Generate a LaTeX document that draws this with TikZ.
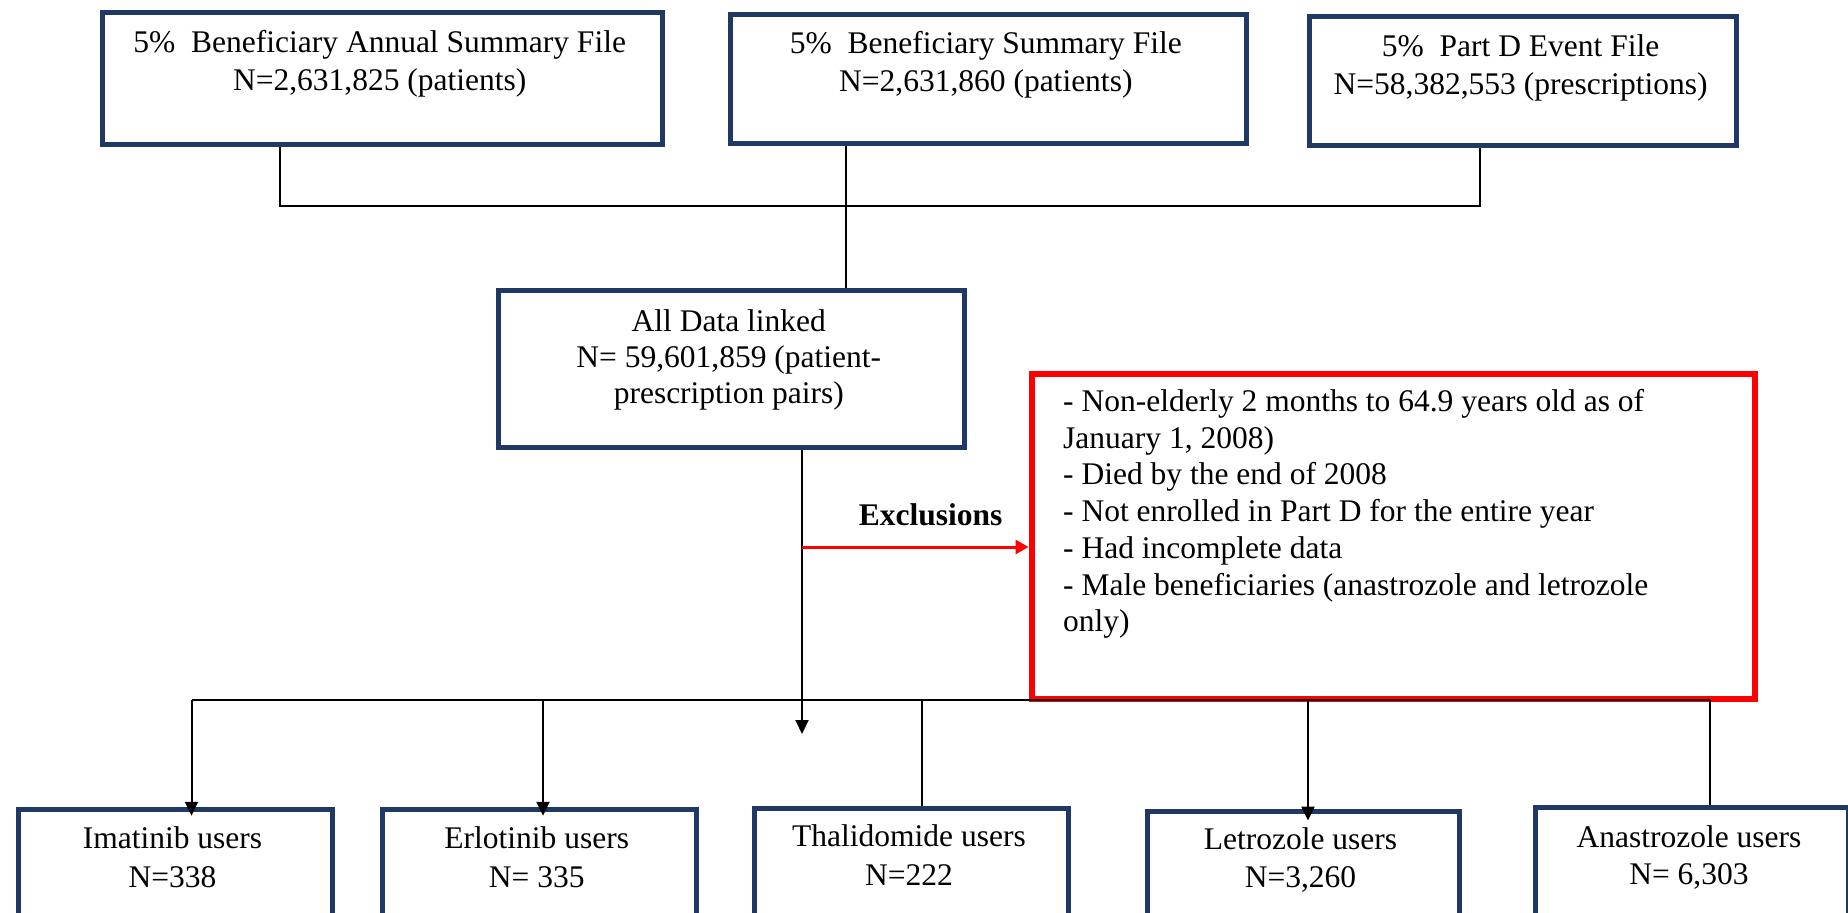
\documentclass[tikz,border=0pt]{standalone}
\usepackage{fontspec}
\setmainfont{Liberation Serif}
\usetikzlibrary{arrows.meta,calc}
\definecolor{navy}{HTML}{1F3864}
\definecolor{exred}{HTML}{FF0000}
\begin{document}
\begin{tikzpicture}[x=1pt,y=-1pt,
  every node/.style={font=\fontsize{31.5}{38}\selectfont},
  box/.style={draw=navy,line width=5pt,inner sep=0pt,anchor=north west},
  redbox/.style={draw=exred,line width=6pt,inner sep=0pt,anchor=north west},
  txt/.style={inner sep=0pt,align=center,anchor=base},
  conn/.style={draw=black,line width=2pt},
  arr/.style={conn,-{Triangle[width=13pt,length=14pt]}},
  redarr/.style={draw=exred,line width=3pt,-{Triangle[width=14pt,length=13pt]}}]
\useasboundingbox (0,0) rectangle (1848,913);
\clip (0,0) rectangle (1848,913);

% top boxes
\node[box,minimum width=560.5pt,minimum height=132pt] (b1) at (99.5,9.8) {};
\node[box,minimum width=515.5pt,minimum height=129pt] (b2) at (728,11.5) {};
\node[box,minimum width=427pt,minimum height=129pt] (b3) at (1307,13.5) {};
% base anchor = baseline of the last line
\node[txt] (t1) at (379.7,90) {5\%\ \ Beneficiary Annual Summary File\\N=2,631,825 (patients)};
\node[txt] (t2) at (985.8,91) {5\%\ \ Beneficiary Summary File\\N=2,631,860 (patients)};
\node[txt] (t3) at (1520.6,94) {5\%\ \ Part D Event File\\N=58,382,553 (prescriptions)};

% linked box
\node[box,minimum width=466.5pt,minimum height=156.5pt] (b4) at (495.5,288) {};
\node[txt,font=\fontsize{31.5}{36}\selectfont] (t4) at (728.8,403) {All Data linked\\N= 59,601,859 (patient-\\prescription pairs)};

% exclusion box
\node[redbox,minimum width=723pt,minimum height=325pt] (rb) at (1028.5,370.5) {};
\node[inner sep=0pt,align=left,anchor=base west,font=\fontsize{31.5}{36.7}\selectfont] (rt) at (1063,631.7)
 {- Non-elderly 2 months to 64.9 years old as of\\January 1, 2008)\\- Died by the end of 2008\\- Not enrolled in Part D for the entire year\\- Had incomplete data\\- Male beneficiaries (anastrozole and letrozole\\only)};
\node[inner sep=0pt,anchor=base west] (ex) at (858.7,525) {\textbf{Exclusions}};

% bottom boxes
\node[box,minimum width=314pt,minimum height=140pt] (b5) at (15.5,806.8) {};
\node[box,minimum width=314.5pt,minimum height=140pt] (b6) at (379.5,806.8) {};
\node[box,minimum width=314pt,minimum height=140pt] (b7) at (752,805.8) {};
\node[box,minimum width=312pt,minimum height=140pt] (b8) at (1144.5,808.5) {};
\node[box,minimum width=313pt,minimum height=140pt] (b9) at (1532.5,805.2) {};
\node[txt,font=\fontsize{31.5}{39}\selectfont] (t5) at (172.5,887) {Imatinib users\\N=338};
\node[txt,font=\fontsize{31.5}{39}\selectfont] (t6) at (536.7,887) {Erlotinib users\\N= 335};
\node[txt,font=\fontsize{31.5}{38.5}\selectfont] (t7) at (909,885) {Thalidomide users\\N=222};
\node[txt,font=\fontsize{31.5}{37.5}\selectfont] (t8) at (1300.5,887.3) {Letrozole users\\N=3,260};
\node[txt,font=\fontsize{31.5}{36.5}\selectfont] (t9) at (1689,884) {Anastrozole users\\N= 6,303};

% connectors top
\coordinate (j1) at (280,206);
\coordinate (j2) at (1480,206);
\coordinate (j3) at (846,206);
\draw[conn,line width=2.5pt] (b1.south -| j1) -- (j1) -- (j2) -- (b3.south -| j2);
\draw[conn] (b2.south -| j3) -- (b4.north -| j3);

% main arrow and exclusion arrow
\coordinate (m1) at (802,734);
\draw[arr] (b4.south -| m1) -- (m1);
\coordinate (e0) at (802,547);
\draw[redarr] (e0) -- (e0 -| rb.west);

% bottom distribution
\coordinate (h1) at (191.5,700);
\coordinate (h2) at (543,700);
\coordinate (h3) at (922,700);
\coordinate (h4) at (1308,700);
\coordinate (h5) at (1710,700);
\draw[conn] (h1) -- (h5);
\draw[arr,shorten >=-9pt] (h1) -- (b5.north -| h1);
\draw[arr,shorten >=-9pt] (h2) -- (b6.north -| h2);
\draw[conn] (h3) -- (b7.north -| h3);
\draw[arr,shorten >=-12pt] (h4) -- (b8.north -| h4);
\draw[conn] (h5) -- (b9.north -| h5);
\end{tikzpicture}
\end{document}
